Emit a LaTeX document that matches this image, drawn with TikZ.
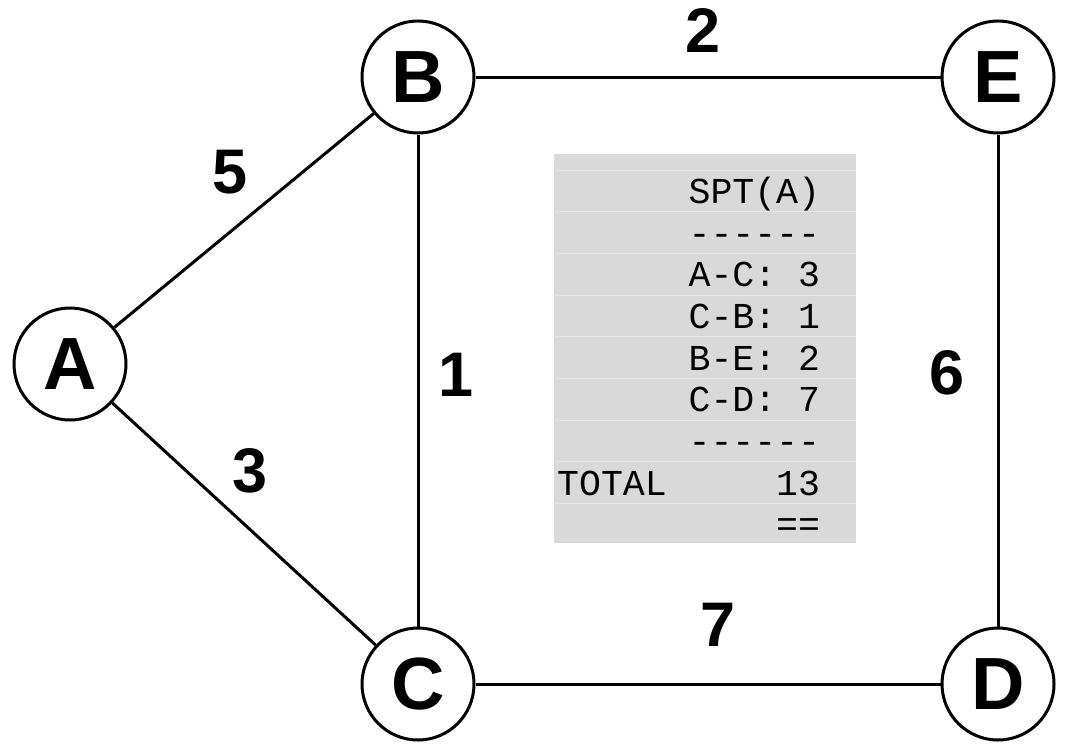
\documentclass[tikz,border=0pt]{standalone}
\usepackage{fontspec}
\setmainfont{Liberation Sans}
\newfontfamily\tablefont{Liberation Mono}
\definecolor{boxgray}{HTML}{D9D9D9}
\definecolor{rulegray}{HTML}{E6E6E6}
\begin{document}
\begin{tikzpicture}[x=1pt,y=-1pt,
  vertex/.style={circle,draw=black,line width=3pt,fill=white,minimum size=112pt,inner sep=0pt,
    font=\fontsize{74}{74}\selectfont\bfseries},
  edge/.style={line width=3pt,black},
  weight/.style={inner sep=0pt,font=\fontsize{63}{63}\selectfont\bfseries},
  trow/.style={anchor=base west,inner sep=0pt,font=\tablefont\fontsize{36.5}{36.5}\selectfont},
  tline/.style={rulegray,line width=1pt}]
\useasboundingbox (0,0) rectangle (1067,744);
% nodes
\node[vertex] (A) at (70,364) {A};
\node[vertex] (B) at (418,77) {B};
\node[vertex] (E) at (998,77) {E};
\node[vertex] (C) at (418,684) {C};
\node[vertex] (D) at (998,684) {D};
% edges
\draw[edge] (A) -- (B);
\draw[edge] (A) -- (C);
\draw[edge] (B) -- (C);
\draw[edge] (B) -- (E);
\draw[edge] (C) -- (D);
\draw[edge] (E) -- (D);
% weights
\node[weight] (w5) at (230,172) {5};
\node[weight] (w3) at (250,471) {3};
\node[weight] (w1) at (456,375) {1};
\node[weight] (w2) at (703,31) {2};
\node[weight] (w6) at (947,373) {6};
\node[weight] (w7) at (718,625) {7};
% table
\fill[boxgray] (554,154) rectangle (856,543);
\foreach \k in {0,...,8} {
  \draw[tline] (554,170+41.67*\k) -- (856,170+41.67*\k);
}
\node[trow] (t1) at (557,203.5) {~~~~~~SPT(A)};
\node[trow] (t2) at (557,245.2) {~~~~~~------};
\node[trow] (t3) at (557,286.8) {~~~~~~A-C:~3};
\node[trow] (t4) at (557,328.5) {~~~~~~C-B:~1};
\node[trow] (t5) at (557,370.2) {~~~~~~B-E:~2};
\node[trow] (t6) at (557,411.8) {~~~~~~C-D:~7};
\node[trow] (t7) at (557,453.5) {~~~~~~------};
\node[trow] (t8) at (557,495.2) {TOTAL~~~~~13};
\node[trow] (t9) at (557,536.8) {~~~~~~~~~~==};
\end{tikzpicture}
\end{document}
